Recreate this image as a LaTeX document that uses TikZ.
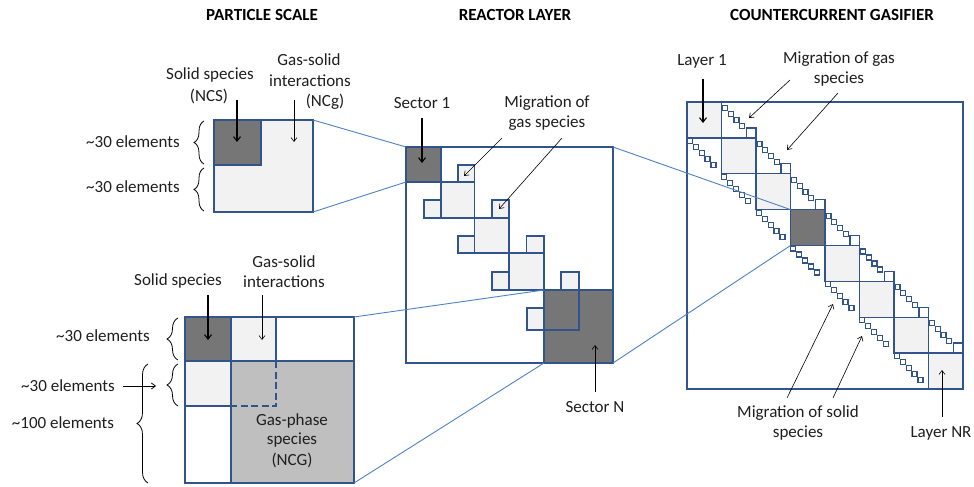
\documentclass[tikz,border=0pt]{standalone}
\usepackage{fontspec}
\setmainfont{Carlito}
\usetikzlibrary{arrows.meta,decorations.pathreplacing}
\definecolor{bblue}{RGB}{50,84,140}
\definecolor{cblue}{RGB}{79,129,199}
\definecolor{dgray}{RGB}{118,118,118}
\definecolor{lgray}{RGB}{242,242,242}
\definecolor{mgray}{RGB}{191,191,191}
\newcommand{\tld}{\char"7E\relax}
\begin{document}
\begin{tikzpicture}[x=1bp,y=-1bp,
  lbl/.style={font=\fontsize{17bp}{19bp}\selectfont, inner sep=0pt, text=black!88},
  ttl/.style={font=\bfseries\fontsize{17bp}{19bp}\selectfont, inner sep=0pt},
  bx/.style={draw=bblue, line width=1.3bp},
  thk/.style={draw=bblue, line width=2.2bp},
  conn/.style={draw=cblue, line width=0.9bp},
  arr/.style={-{Straight Barb[length=4bp,width=6bp]}, line width=0.6bp},
  arrb/.style={-{Straight Barb[length=4.5bp,width=7bp]}, line width=1.1bp},
  dotbox/.style={draw=bblue, fill=white, line width=1.2bp, minimum size=5bp, inner sep=0pt, outer sep=0pt, shape=rectangle},
  brc/.style={decorate, decoration={brace, amplitude=#1}, line width=0.8bp},
]
\fill[white] (0,0) rectangle (974,487);
\path[use as bounding box] (0,0) rectangle (974,487);

% ---------- titles
\node[ttl] (tPS) at (262,15) {PARTICLE SCALE};
\node[ttl] (tRL) at (515,15) {REACTOR LAYER};
\node[ttl] (tCG) at (832,15) {COUNTERCURRENT GASIFIER};

% ---------- corner coordinates
\coordinate (pmA-nw) at (214,120); \coordinate (pmA-se) at (313,212);
\coordinate (pmB-nw) at (185,317); \coordinate (pmB-se) at (354,483);
\coordinate (rl-nw) at (406,147);  \coordinate (rl-se) at (613,363);
\coordinate (cg-nw) at (687,102);  \coordinate (cg-se) at (963,389);
\coordinate (sec1-nw) at (406,147); \coordinate (sec1-se) at (441,182);
\coordinate (secN-nw) at (544,290); \coordinate (secN-se) at (613,363);
\coordinate (cgd-nw) at (790.5,209.6); \coordinate (cgd-se) at (825,245.5);

% ---------- top-left matrix (particle scale)
\fill[lgray] (pmA-nw) rectangle (pmA-se);
\filldraw[fill=dgray, bx] (214,120) rectangle (261,165);
\draw[bx] (pmA-nw) rectangle (pmA-se);
\draw[thk] (pmA-se |- pmA-nw) -- (pmA-se) -- (pmA-nw |- pmA-se);

% ---------- bottom-left matrix
\fill[dgray] (185,317) rectangle (231,361);
\fill[lgray] (231,317) rectangle (276,361);
\fill[lgray] (185,361) rectangle (231,406);
\fill[mgray] (231,361) rectangle (354,483);
\draw[bx] (185,361) -- (354,361);
\draw[bx] (231,317) -- (231,483);
\draw[bx] (276,317) -- (276,361);
\draw[bx] (185,406) -- (231,406);
\draw[bx, dash pattern=on 7bp off 3.5bp] (276,361) -- (276,406) -- (231,406);
\draw[bx] (pmB-nw) rectangle (pmB-se);
\draw[thk] (pmB-se |- pmB-nw) -- (pmB-se) -- (pmB-nw |- pmB-se);

% ---------- reactor layer
\filldraw[fill=dgray, bx] (secN-nw) rectangle (secN-se);
\draw[bx] (544,330) -- (579,330) -- (579,290);
\filldraw[fill=dgray, bx] (sec1-nw) rectangle (sec1-se);
\filldraw[fill=lgray, bx] (441,182) rectangle (474.5,218);
\filldraw[fill=lgray, bx] (474.5,218) rectangle (509,253);
\filldraw[fill=lgray, bx] (509,253) rectangle (544,290);
% coupling boxes
\filldraw[fill=lgray, bx] (458,165) rectangle (474.5,182);
\filldraw[fill=lgray, bx] (424,200) rectangle (441,218);
\filldraw[fill=lgray, bx] (492,200) rectangle (509,218);
\filldraw[fill=lgray, bx] (458,236) rectangle (474.5,253);
\filldraw[fill=lgray, bx] (526.5,236) rectangle (544,253);
\filldraw[fill=lgray, bx] (492,272) rectangle (509,290);
\filldraw[fill=lgray, bx] (561,272) rectangle (579,290);
\filldraw[fill=lgray, bx] (527,308) rectangle (544,330);
\draw[bx] (rl-nw) rectangle (rl-se);
\draw[thk] (rl-se |- rl-nw) -- (rl-se) -- (rl-nw |- rl-se);

% ---------- countercurrent gasifier
\foreach \k in {0,...,7}{
  \pgfmathsetmacro{\xa}{687+34.5*\k}
  \pgfmathsetmacro{\ya}{102+35.875*\k}
  \pgfmathsetmacro{\xb}{687+34.5*(\k+1)}
  \pgfmathsetmacro{\yb}{102+35.875*(\k+1)}
  \ifnum\k=3
    \filldraw[fill=dgray, bx] (\xa,\ya) rectangle (\xb,\yb);
  \else
    \filldraw[fill=lgray, bx] (\xa,\ya) rectangle (\xb,\yb);
  \fi
}
\foreach \k in {0,...,6}{
  % upper coupling: row k, column k+1
  \pgfmathsetmacro{\ux}{687+34.5*(\k+1)}
  \pgfmathsetmacro{\uy}{102+35.875*\k}
  \foreach \i in {0,...,3}{
    \node[dotbox] (ud\k\i) at (\ux+3.5+5.7*\i, \uy+6+6*\i) {};
  }
  \filldraw[fill=white, bx] (\ux+25,\uy+25.9) rectangle (\ux+34.5,\uy+35.875);
  % lower coupling: row k+1, column k
  \pgfmathsetmacro{\lx}{687+34.5*\k}
  \pgfmathsetmacro{\ly}{102+35.875*(\k+1)}
  \foreach \i in {0,...,4}{
    \node[dotbox] (ld\k\i) at (\lx+2.8+5.9*\i, \ly+3+6*\i) {};
  }
}
\draw[bx] (cg-nw) rectangle (cg-se);
\draw[thk] (cg-se |- cg-nw) -- (cg-se) -- (cg-nw |- cg-se);

% ---------- zoom connectors
\draw[conn] (pmA-se |- pmA-nw) -- (sec1-nw);
\draw[conn] (pmA-se) -- (sec1-nw |- sec1-se);
\draw[conn] (pmB-se |- pmB-nw) -- (secN-nw);
\draw[conn] (pmB-se) -- (secN-nw |- secN-se);
\draw[conn] (rl-se |- rl-nw) -- (cgd-nw);
\draw[conn] (rl-se) -- (cgd-nw |- cgd-se);

% ---------- labels, particle scale (top)
\node[lbl] (lSA1) at (210,75) {Solid species};
\node[lbl] (lSA2) at (209,96) {(NCS)};
\node[lbl] (lGA1) at (309,60) {Gas-solid};
\node[lbl] (lGA2) at (310,81) {interactions};
\node[lbl] (lGA3) at (325,102) {(NCg)};
\coordinate (aSAs) at (237,100); \coordinate (aSAe) at (237,142);
\coordinate (aGAs) at (294,100); \coordinate (aGAe) at (294,142);
\draw[arrb] (aSAs) -- (aSAe);
\draw[arr] (aGAs) -- (aGAe);
\node[lbl] (lE1) at (133,142) {\tld30 elements};
\node[lbl] (lE2) at (133,187) {\tld30 elements};
\draw[brc=10bp] (204,164) -- (204,121);
\draw[brc=10bp] (204,211) -- (204,168);

% ---------- labels, particle scale (bottom)
\node[lbl] (lSB1) at (178,281) {Solid species};
\node[lbl] (lGB1) at (284,262) {Gas-solid};
\node[lbl] (lGB2) at (284,282) {interactions};
\coordinate (aSBs) at (208,295); \coordinate (aSBe) at (208,340);
\coordinate (aGBs) at (262,295); \coordinate (aGBe) at (262,340);
\draw[arrb] (aSBs) -- (aSBe);
\draw[arr] (aGBs) -- (aGBe);
\node[lbl] (lGP1) at (292,421) {Gas-phase};
\node[lbl] (lGP2) at (292,440) {species};
\node[lbl] (lGP3) at (292,460) {(NCG)};
\node[lbl] (lE3) at (103,336) {\tld30 elements};
\node[lbl] (lE4) at (68,386) {\tld30 elements};
\node[lbl] (lE5) at (63,423) {\tld100 elements};
\draw[brc=11bp] (178,360) -- (178,318);
\draw[brc=11bp] (178,406) -- (178,364);
\draw[brc=11bp] (148,483) -- (148,364);
\coordinate (aE4s) at (123,386); \coordinate (aE4e) at (156,386);
\draw[arr, line width=0.8bp] (aE4s) -- (aE4e);

% ---------- labels, reactor layer
\node[lbl] (lS1) at (422,103) {Sector 1};
\coordinate (aS1s) at (422,118); \coordinate (aS1e) at (422,163);
\draw[arrb] (aS1s) -- (aS1e);
\node[lbl] (lMG1) at (547,103) {Migration of};
\node[lbl] (lMG2) at (547,123) {gas species};
\coordinate (aM1s) at (502,138); \coordinate (aM1e) at (464,176);
\coordinate (aM2s) at (562,138); \coordinate (aM2e) at (499,209);
\draw[arr] (aM1s) -- (aM1e);
\draw[arr] (aM2s) -- (aM2e);
\node[lbl] (lSN) at (595,407) {Sector N};
\coordinate (aSNs) at (595,392); \coordinate (aSNe) at (595,345);
\draw[arr] (aSNs) -- (aSNe);

% ---------- labels, gasifier
\node[lbl] (lL1) at (702,61) {Layer 1};
\coordinate (aL1s) at (703,79); \coordinate (aL1e) at (703,123);
\draw[arrb] (aL1s) -- (aL1e);
\node[lbl] (lMG3) at (839,59) {Migration of gas};
\node[lbl] (lMG4) at (839,79) {species};
\coordinate (aM3s) at (790,80); \coordinate (aM3e) at (749,118);
\coordinate (aM4s) at (838,93); \coordinate (aM4e) at (787,150);
\draw[arr] (aM3s) -- (aM3e);
\draw[arr] (aM4s) -- (aM4e);
\node[lbl] (lMS1) at (798,413) {Migration of solid};
\node[lbl] (lMS2) at (798,433) {species};
\coordinate (aM5s) at (787,398); \coordinate (aM5e) at (833,304);
\coordinate (aM6s) at (833,398); \coordinate (aM6e) at (862,336);
\draw[arr] (aM5s) -- (aM5e);
\draw[arr] (aM6s) -- (aM6e);
\node[lbl] (lLN) at (941,433) {Layer NR};
\coordinate (aLNs) at (942,417); \coordinate (aLNe) at (942,370);
\draw[arr] (aLNs) -- (aLNe);
\end{tikzpicture}
\end{document}
